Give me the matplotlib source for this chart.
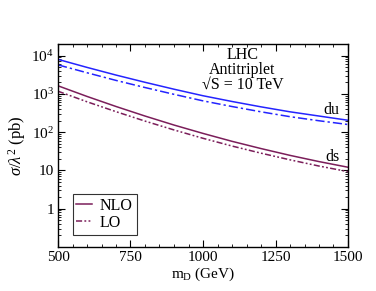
import matplotlib
matplotlib.use("Agg")
import matplotlib.pyplot as plt
from matplotlib.ticker import FixedLocator, LogLocator, MultipleLocator, NullFormatter

plt.rcParams['font.family'] = ['Liberation Serif', 'DejaVu Serif']
plt.rcParams['mathtext.fontset'] = 'custom'
plt.rcParams['mathtext.rm'] = 'Liberation Serif'
plt.rcParams['mathtext.it'] = 'Liberation Serif:italic'

# m_D in GeV
mass = [500, 600, 700, 800, 900, 1000, 1100, 1200, 1300, 1400, 1500]
# sigma/lambda^2 in pb
du_nlo = [7940, 4900, 3090, 2000, 1320, 891, 631, 457, 339, 263, 204]
du_lo = [5700, 3550, 2240, 1460, 970, 655, 466, 339, 253, 198, 158]
ds_nlo = [1620, 855, 467, 263, 153, 92.5, 57.5, 37.2, 24.7, 17.0, 12.1]
ds_lo = [1170, 620, 342, 194, 114, 69, 43.3, 28.2, 18.9, 13.0, 9.3]

y_ticks = [1, 10, 100, 1000, 10000]
y_labels = ['1', '10', r'$10^2$', r'$10^3$', r'$10^4$']
x_ticks = [500, 750, 1000, 1250, 1500]

blue = '#2424ff'
maroon = '#7b1e5a'

fig = plt.figure(figsize=(3.76, 2.91), dpi=100)
ax = fig.add_axes([58 / 376, 44 / 291, 290 / 376, 203 / 291])

ax.plot(mass, du_nlo, color=blue, lw=1.1)
ax.plot(mass, du_lo, color=blue, lw=1.1, ls=(0, (6, 2, 1.5, 2)))
ax.plot(mass, ds_nlo, color=maroon, lw=1.1, label='NLO')
ax.plot(mass, ds_lo, color=maroon, lw=1.1, ls=(0, (4, 1.5, 1.2, 1.5, 1.2, 1.5)), label='LO')

ax.set_yscale('log')
ax.set_xlim(500, 1500)
ax.set_ylim(0.1, 2e4)
ax.xaxis.set_major_locator(FixedLocator(x_ticks))
ax.xaxis.set_minor_locator(MultipleLocator(50))
ax.yaxis.set_major_locator(FixedLocator(y_ticks))
ax.set_yticklabels(y_labels)
ax.yaxis.set_minor_locator(LogLocator(base=10, subs=range(2, 10), numticks=20))
ax.yaxis.set_minor_formatter(NullFormatter())
ax.tick_params(which='both', direction='in', top=True, right=True, labelsize=11, pad=3)
ax.tick_params(which='major', length=5)
ax.tick_params(which='minor', length=2.5)
for s in ax.spines.values():
    s.set_linewidth(1.0)

ax.set_xlabel(r'm$_\mathrm{D}$ (GeV)', fontsize=11, labelpad=1)
ax.set_ylabel(r'$\sigma/\lambda^2$ (pb)', fontsize=12, labelpad=2)

ax.text(0.636, 0.985, 'LHC\nAntitriplet\n\u221aS = 10 TeV', transform=ax.transAxes,
        ha='center', va='top', fontsize=11.5, linespacing=0.92)
ax.text(0.97, 0.675, 'du', transform=ax.transAxes, ha='right', va='center', fontsize=11.5)
ax.text(0.97, 0.443, 'ds', transform=ax.transAxes, ha='right', va='center', fontsize=11.5)

leg = ax.legend(loc='lower left', bbox_to_anchor=(0.05, 0.06), fontsize=11.5, frameon=True,
                fancybox=False, edgecolor='black', handlelength=0.95, handletextpad=0.5,
                borderpad=0.25, labelspacing=0.05, borderaxespad=0)
leg.get_frame().set_linewidth(0.8)

fig.savefig('out.png', dpi=100)
